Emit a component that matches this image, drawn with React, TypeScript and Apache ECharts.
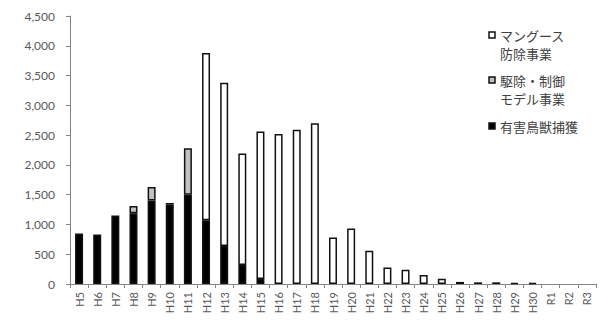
import React, { useEffect, useRef } from "react";
import * as echarts from "echarts";

const categories = [
  "H5", "H6", "H7", "H8", "H9", "H10", "H11", "H12", "H13", "H14", "H15", "H16", "H17", "H18",
  "H19", "H20", "H21", "H22", "H23", "H24", "H25", "H26", "H27", "H28", "H29", "H30", "R1", "R2", "R3",
];

const harmfulCapture = [
  850, 830, 1150, 1190, 1400, 1330, 1500, 1070, 640, 320, 85, null, null, null,
  null, null, null, null, null, null, null, null, null, null, null, null, null, null, null,
];

const modelProject = [
  null, null, null, 120, 230, 30, 780, null, null, null, null, null, null, null,
  null, null, null, null, null, null, null, null, null, null, null, null, null, null, null,
];

const mongooseProject = [
  null, null, null, null, null, null, null, 2810, 2740, 1870, 2475, 2520, 2590, 2700,
  780, 930, 560, 275, 240, 150, 90, 35, 28, 28, 15, 15, null, null, null,
];

const yTicks = { min: 0, max: 4500, interval: 500 };

const seriesNames = ["マングース\n防除事業", "駆除・制御\nモデル事業", "有害鳥獣捕獲"];
const seriesColors = ["#ffffff", "#c0c0c0", "#000000"];

export default function App() {
  const ref = useRef<HTMLDivElement>(null);
  useEffect(() => {
    document.body.style.margin = "0";
    if (!ref.current) return;
    const chart = echarts.init(ref.current, null, { renderer: "svg" });
    const axisColor = "#868686";
    const labelColor = "#595959";
    const border = { borderColor: "#111", borderWidth: 1.5 };
    const legendCenters = [35, 80, 126];
    const legendGraphics: any[] = [];
    seriesNames.forEach((name, i) => {
      const cy = legendCenters[i];
      legendGraphics.push({
        type: "rect",
        shape: { x: 489, y: cy - 3, width: 6, height: 6 },
        style: { fill: seriesColors[i], stroke: "#111", lineWidth: 1.5 },
      });
      legendGraphics.push({
        type: "text",
        x: 500,
        y: cy - 9,
        style: {
          text: name,
          fontFamily: "Noto Sans CJK JP",
          fontSize: 13,
          lineHeight: 18,
          fill: "#404040",
          verticalAlign: "top",
          align: "left",
        },
      });
    });
    chart.setOption({
      animation: false,
      grid: { left: 70, right: 16, top: 16, bottom: 38 },
      graphic: legendGraphics,
      xAxis: {
        type: "category",
        data: categories,
        axisLine: { lineStyle: { color: axisColor, width: 1 } },
        axisTick: { show: true, length: 4, lineStyle: { color: axisColor } },
        axisLabel: {
          rotate: 90, interval: 0, margin: 8, color: labelColor,
          fontFamily: "Lato", fontSize: 11,
        },
      },
      yAxis: {
        type: "value",
        min: yTicks.min, max: yTicks.max, interval: yTicks.interval,
        splitLine: { show: false },
        axisLine: { show: true, lineStyle: { color: axisColor, width: 1 } },
        axisTick: { show: true, length: 4, lineStyle: { color: axisColor } },
        axisLabel: {
          color: labelColor, fontFamily: "Lato", fontSize: 12, margin: 15,
          formatter: (v: number) => v.toLocaleString("en-US"),
        },
      },
      series: [
        {
          name: seriesNames[2], type: "bar", stack: "total", barWidth: 8,
          data: harmfulCapture,
          itemStyle: { color: seriesColors[2], ...border },
        },
        {
          name: seriesNames[1], type: "bar", stack: "total", barWidth: 8,
          data: modelProject,
          itemStyle: { color: seriesColors[1], ...border },
        },
        {
          name: seriesNames[0], type: "bar", stack: "total", barWidth: 8,
          data: mongooseProject,
          itemStyle: { color: seriesColors[0], ...border },
        },
      ],
    });
    return () => chart.dispose();
  }, []);
  return <div ref={ref} style={{ width: 612, height: 322 }} />;
}
